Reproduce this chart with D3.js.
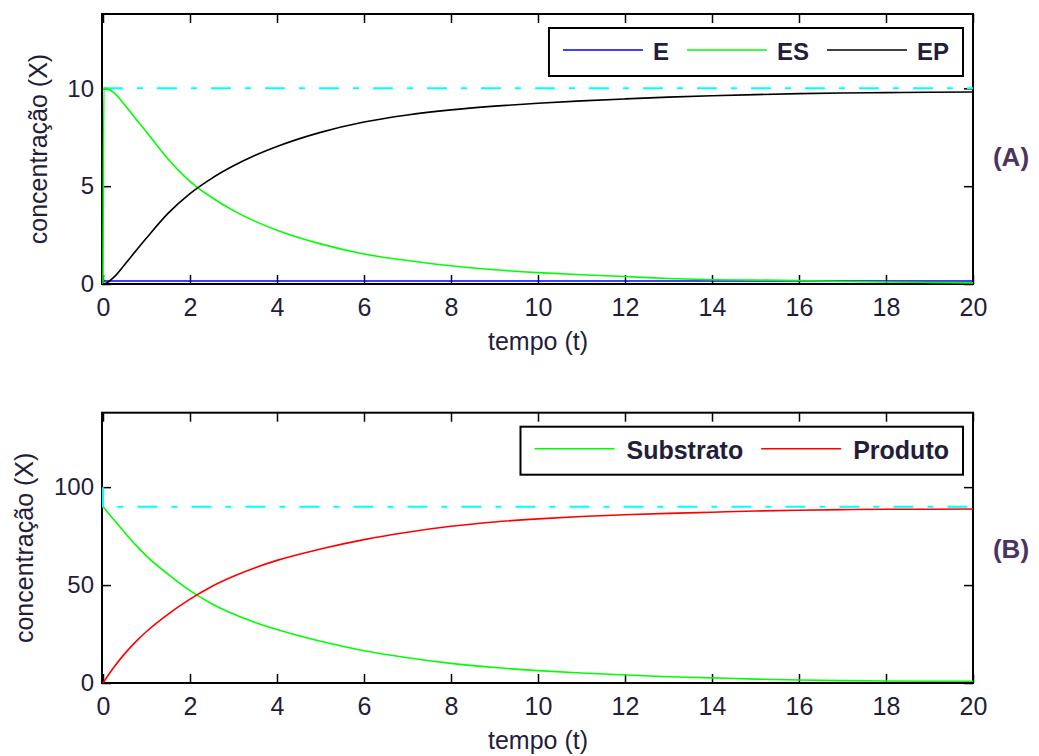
<!DOCTYPE html>
<html>
<head>
<meta charset="utf-8">
<script src="https://cdn.jsdelivr.net/npm/d3@7"></script>
<style>
  body { margin: 0; background: #fff; }
  svg { display: block; font-family: "Liberation Sans", Arial, sans-serif; }
</style>
</head>
<body>
<div id="chart"></div>
<script>
// time points (panel A has an extra point right after t=0)
var timeA = [0, 0.02, 0.25, 0.5, 0.75, 1, 1.5, 2, 2.5, 3, 3.5, 4, 5, 6, 7, 8, 9, 10, 11, 12, 13, 14, 15, 16, 17, 18, 19, 20];
var valE = [0.15, 0.15, 0.15, 0.15, 0.15, 0.15, 0.15, 0.15, 0.15, 0.15, 0.15, 0.15, 0.15, 0.15, 0.15, 0.15, 0.15, 0.15, 0.15, 0.15, 0.15, 0.15, 0.15, 0.15, 0.15, 0.15, 0.15, 0.15];
var valES = [0, 10, 9.78, 9.15, 8.45, 7.77, 6.38, 5.25, 4.42, 3.75, 3.2, 2.75, 2.05, 1.53, 1.2, 0.93, 0.73, 0.58, 0.47, 0.38, 0.28, 0.22, 0.2, 0.17, 0.13, 0.1, 0.08, 0.06];
var valEP = [0, 0, 0.35, 1.0, 1.68, 2.35, 3.62, 4.62, 5.4, 6.04, 6.58, 7.03, 7.75, 8.28, 8.64, 8.9, 9.09, 9.24, 9.36, 9.46, 9.55, 9.62, 9.68, 9.73, 9.76, 9.78, 9.8, 9.81];

var timeB = [0, 0.25, 0.5, 0.75, 1, 1.5, 2, 2.5, 3, 3.5, 4, 5, 6, 7, 8, 9, 10, 11, 12, 13, 14, 15, 16, 17, 18, 19, 20];
var valSubstrato = [90, 83.3, 76.8, 70.5, 64.8, 55.5, 47.2, 40.5, 35.2, 30.9, 27.3, 21.3, 16.5, 12.9, 10.0, 7.9, 6.3, 5.1, 4.1, 3.2, 2.6, 2.0, 1.5, 1.2, 1.0, 0.9, 0.9];
var valProduto = [0, 8.0, 15.0, 21.0, 26.3, 35.2, 42.8, 49.3, 54.5, 58.9, 62.6, 68.4, 73.2, 77.0, 80.0, 82.2, 83.8, 85.0, 85.9, 86.6, 87.2, 87.8, 88.2, 88.5, 88.7, 88.7, 88.8];

// dash-dot reference lines
var refTimeA = [0, 20];
var refValA = [10, 10];
var refTimeB = [0, 0, 20];
var refValB = [100, 90, 90];

var xTicks = [0, 2, 4, 6, 8, 10, 12, 14, 16, 18, 20];
var yTicksA = [0, 5, 10];
var yTicksB = [0, 50, 100];
var yMaxA = 13.8, yMaxB = 138;

var namesA = ["E", "ES", "EP"];
var colorsA = ["#0000ff", "#00ff00", "#000000"];
var namesB = ["Substrato", "Produto"];
var colorsB = ["#00ff00", "#ff0000"];

var W = 1039, H = 756;
var svg = d3.select("#chart").append("svg")
  .attr("width", W)
  .attr("height", H);

var textColor = "#231d3a";

function zip(t, v) {
  return t.map(function(d, i) { return { t: d, v: v[i] }; });
}

function panel(opts) {
  var left = 103, right = 973;
  var x = d3.scaleLinear().domain([0, 20]).range([left, right]);
  var y = d3.scaleLinear().domain([0, opts.yMax]).range([opts.bottom, opts.top]);

  var g = svg.append("g");

  // box first, curves are drawn over it
  g.append("rect")
    .attr("x", left - 1)
    .attr("y", opts.top)
    .attr("width", right - left + 1)
    .attr("height", opts.bottom - opts.top)
    .attr("fill", "none")
    .attr("stroke", "#000")
    .attr("stroke-width", 2);

  // axes (ticks point inward, MATLAB style)
  var bottom = g.append("g")
    .attr("transform", "translate(0," + opts.bottom + ")")
    .call(d3.axisBottom(x).tickValues(xTicks).tickSize(-9).tickPadding(14).tickFormat(d3.format("d")));
  var leftAx = g.append("g")
    .attr("transform", "translate(" + (left - 1) + ",0)")
    .call(d3.axisLeft(y).tickValues(opts.yTicks).tickSize(-9).tickPadding(8).tickFormat(d3.format("d")));
  g.append("g")
    .attr("transform", "translate(0," + opts.top + ")")
    .call(d3.axisTop(x).tickValues(xTicks).tickSize(-9).tickFormat(""));
  g.append("g")
    .attr("transform", "translate(" + right + ",0)")
    .call(d3.axisRight(y).tickValues(opts.yTicks).tickSize(-9).tickFormat(""));

  g.selectAll(".domain").remove();
  g.selectAll(".tick line").attr("stroke", "#000").attr("stroke-width", 1.5);
  bottom.selectAll("text").attr("font-size", 25).attr("fill", textColor);
  leftAx.selectAll("text").attr("font-size", 24).attr("fill", textColor);

  var line = d3.line()
    .x(function(d) { return x(d.t); })
    .y(function(d) { return y(d.v); })
    .curve(d3.curveMonotoneX);

  // reference dash-dot line
  g.append("path")
    .datum(zip(opts.refTime, opts.refVal))
    .attr("fill", "none")
    .attr("stroke", "#00ffff")
    .attr("stroke-width", 2)
    .attr("stroke-dasharray", "20,14,6,14")
    .attr("d", d3.line().x(function(d) { return x(d.t); }).y(function(d) { return y(d.v); }));

  opts.series.forEach(function(s, i) {
    g.append("path")
      .datum(zip(opts.time, s))
      .attr("fill", "none")
      .attr("stroke", opts.colors[i])
      .attr("stroke-width", 1.6)
      .attr("d", line);
  });

  // axis labels
  g.append("text")
    .attr("x", (left + right) / 2)
    .attr("y", opts.bottom + 66)
    .attr("text-anchor", "middle")
    .attr("font-size", 25)
    .attr("fill", textColor)
    .text("tempo (t)");

  g.append("text")
    .attr("transform", "translate(" + opts.yLabelX + "," + ((opts.top + opts.bottom) / 2) + ") rotate(-90)")
    .attr("text-anchor", "middle")
    .attr("font-size", 25)
    .attr("fill", textColor)
    .text("concentração (X)");

  // panel tag
  g.append("text")
    .attr("x", 1011)
    .attr("y", opts.tagY)
    .attr("text-anchor", "middle")
    .attr("font-size", 26)
    .attr("font-weight", "bold")
    .attr("fill", "#4a3562")
    .text(opts.tag);

  // legend, right aligned in the top-right corner
  var lg = g.append("g");
  var boxTop = opts.top + 14, boxRight = right - 10, pad = 14, lineLen = 80, gapItem = 18;
  var items = [];
  var cx = 0;
  opts.names.forEach(function(n, i) {
    var it = lg.append("g");
    it.append("line")
      .attr("x1", cx).attr("x2", cx + lineLen)
      .attr("y1", boxTop + 22).attr("y2", boxTop + 22)
      .attr("stroke", opts.colors[i])
      .attr("stroke-width", 1.6);
    var txt = it.append("text")
      .attr("x", cx + lineLen + opts.gapText)
      .attr("y", boxTop + 32)
      .attr("font-size", opts.legendSize)
      .attr("font-weight", "bold")
      .attr("fill", textColor)
      .text(n);
    cx += lineLen + opts.gapText + txt.node().getComputedTextLength() + gapItem;
    items.push(it);
  });
  var inner = cx - gapItem;
  var boxW = inner + 2 * pad;
  var boxLeft = boxRight - boxW;
  lg.insert("rect", ":first-child")
    .attr("x", boxLeft)
    .attr("y", boxTop)
    .attr("width", boxW)
    .attr("height", 48)
    .attr("fill", "#fff")
    .attr("stroke", "#000")
    .attr("stroke-width", 2);
  items.forEach(function(it) {
    it.attr("transform", "translate(" + (boxLeft + pad) + ",0)");
  });
}

panel({
  top: 14, bottom: 284, yMax: yMaxA, yTicks: yTicksA,
  time: timeA, series: [valE, valES, valEP], colors: colorsA, names: namesA,
  refTime: refTimeA, refVal: refValA,
  yLabelX: 47, tag: "(A)", tagY: 166, legendSize: 24, gapText: 10
});

panel({
  top: 412.7, bottom: 683, yMax: yMaxB, yTicks: yTicksB,
  time: timeB, series: [valSubstrato, valProduto], colors: colorsB, names: namesB,
  refTime: refTimeB, refVal: refValB,
  yLabelX: 33, tag: "(B)", tagY: 558, legendSize: 25, gapText: 12
});
</script>
</body>
</html>
